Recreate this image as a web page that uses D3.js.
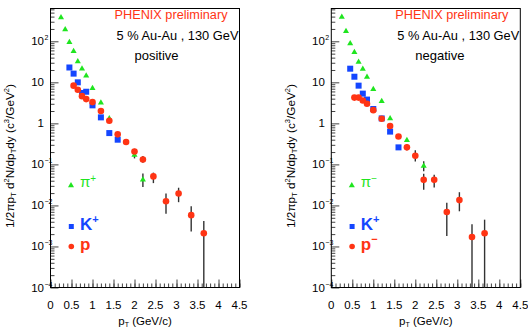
<!DOCTYPE html>
<html>
<head>
<meta charset="utf-8">
<script src="https://cdn.jsdelivr.net/npm/d3@7"></script>
<style>
  body { margin: 0; background: #fff; }
  svg { display: block; font-family: "Liberation Sans", Arial, sans-serif; }
</style>
</head>
<body>
<div id="vis"></div>
<script>
// ---- data ----
var xTicks = [0, 0.5, 1, 1.5, 2, 2.5, 3, 3.5, 4, 4.5];
var yDecades = [-4, -3, -2, -1, 0, 1, 2];

// positive panel
var piPosPt = [0.25, 0.35, 0.45, 0.55, 0.65, 0.75, 0.85, 1.0, 1.2, 1.4, 2.0, 2.2];
var piPosY  = [380, 195, 95, 57, 32, 21.4, 14.5, 7.2, 3.2, 1.32, 0.17, 0.042];
var piPosLo = [null, null, null, null, null, null, null, null, null, null, 0.14, 0.028];
var piPosHi = [null, null, null, null, null, null, null, null, null, null, 0.2, 0.060];

var kPosPt = [0.45, 0.55, 0.65, 0.75, 0.85, 1.0, 1.2, 1.4, 1.6];
var kPosY  = [23, 16.3, 10, 5.5, 5.9, 2.75, 1.4, 0.58, 0.40];

var pPosPt = [0.55, 0.65, 0.75, 0.85, 1.0, 1.2, 1.4, 1.6, 1.8, 2.0, 2.2, 2.45, 2.75, 3.05, 3.35, 3.65];
var pPosY  = [8.3, 6.6, 4.6, 3.9, 3.3, 2.0, 1.16, 0.54, 0.35, 0.207, 0.132, 0.051, 0.0126, 0.0195, 0.0058, 0.0021];
var pPosLo = [null, null, null, null, null, null, null, null, 0.3, 0.18, 0.11, 0.035, 0.0063, 0.012, 0.0023, 0];
var pPosHi = [null, null, null, null, null, null, null, null, 0.4, 0.24, 0.16, 0.063, 0.0195, 0.027, 0.0095, 0.0042];

// negative panel
var piNegPt = [0.25, 0.35, 0.45, 0.55, 0.65, 0.75, 0.85, 1.0, 1.2, 1.4, 1.8, 2.2];
var piNegY  = [390, 175, 88, 54, 31.5, 21, 13.5, 6.8, 3.44, 1.32, 0.39, 0.092];
var piNegLo = [null, null, null, null, null, null, null, null, null, null, null, 0.068];
var piNegHi = [null, null, null, null, null, null, null, null, null, null, null, 0.12];

var kNegPt = [0.45, 0.55, 0.65, 0.75, 0.85, 1.0, 1.2, 1.4, 1.6];
var kNegY  = [21.5, 13.7, 8.3, 5.3, 3.8, 2.24, 1.32, 0.63, 0.26];

var pNegPt = [0.55, 0.65, 0.75, 0.85, 1.0, 1.2, 1.4, 1.6, 1.8, 2.0, 2.2, 2.45, 2.75, 3.05, 3.35, 3.65];
var pNegY  = [4.24, 4.24, 3.6, 3.0, 2.1, 1.3, 0.86, 0.48, 0.26, 0.162, 0.042, 0.042, 0.0069, 0.0135, 0.0017, 0.0021];
var pNegLo = [3.7, 3.7, null, null, null, null, null, null, 0.22, 0.118, 0.024, 0.0275, 0.0018, 0.0072, 0, 0];
var pNegHi = [4.9, 4.9, null, null, null, null, null, null, 0.31, 0.22, 0.059, 0.056, 0.0117, 0.021, 0.0035, 0.0045];

var green = "#1fe51f", blue = "#1446ff", red = "#ff3414";

// ---- layout ----
var width = 189, height = 279;

var svg = d3.select("#vis")
    .append("svg")
    .attr("width", 528)
    .attr("height", 333);

var x = d3.scaleLinear().domain([0, 4.5]).range([0, width]);
var y = d3.scaleLog().domain([1e-4, 630]).range([height, 0]);

function zip(pt, val, lo, hi) {
    return pt.map(function (p, i) {
        return {p: p, v: val[i], lo: lo ? lo[i] : null, hi: hi ? hi[i] : null};
    });
}

function drawPanel(left, title, piData, kData, pData, piLabel, pLabelSup) {
    var g = svg.append("g").attr("transform", "translate(" + left + ",8.5)");

    // x axis ticks (inward)
    var minorX = d3.range(0, 4.51, 0.1);
    g.append("g")
        .attr("transform", "translate(0," + height + ")")
        .call(d3.axisBottom(x).tickValues(minorX).tickSize(-4).tickFormat(""))
        .call(function (a) { a.select(".domain").remove(); a.selectAll("line").attr("stroke", "#444"); });
    g.append("g")
        .attr("transform", "translate(0," + height + ")")
        .call(d3.axisBottom(x).tickValues(xTicks).tickSize(-8).tickFormat(""))
        .call(function (a) { a.select(".domain").remove(); a.selectAll("line").attr("stroke", "#444"); });

    // y axis ticks (inward)
    var minorY = [];
    yDecades.forEach(function (e) {
        for (var k = 2; k <= 9; k++) {
            var v = k * Math.pow(10, e);
            if (v <= 630) minorY.push(v);
        }
    });
    g.append("g")
        .call(d3.axisLeft(y).tickValues(minorY).tickSize(-4).tickFormat(""))
        .call(function (a) { a.select(".domain").remove(); a.selectAll("line").attr("stroke", "#444"); });
    g.append("g")
        .call(d3.axisLeft(y).tickValues(yDecades.map(function (e) { return Math.pow(10, e); })).tickSize(-8).tickFormat(""))
        .call(function (a) { a.select(".domain").remove(); a.selectAll("line").attr("stroke", "#444"); });

    // frame
    g.append("rect")
        .attr("x", 0).attr("y", 0)
        .attr("width", width).attr("height", height)
        .attr("fill", "none").attr("stroke", "#000").attr("stroke-width", 1);

    // x tick labels
    g.selectAll(".xl").data(xTicks).enter().append("text")
        .attr("x", function (d) { return x(d); })
        .attr("y", height + 21)
        .attr("text-anchor", "middle")
        .attr("font-size", 11.5)
        .text(function (d) { return d; });

    // y tick labels
    yDecades.forEach(function (e) {
        var yy = y(Math.pow(10, e)) + 4;
        var base = e === 0 ? "1" : "10";
        g.append("text").attr("x", -6.5).attr("y", yy)
            .attr("text-anchor", "end").attr("font-size", 11.5).text(base);
        if (e !== 0 && e !== 1) {
            g.append("text").attr("x", -6).attr("y", yy - 5)
                .attr("font-size", 7).text(e < 0 ? "\u2212" + (-e) : e);
        }
    });

    // axis titles
    var xt = g.append("text")
        .attr("x", x(2.25)).attr("y", height + 37)
        .attr("text-anchor", "middle").attr("font-size", 11.5);
    xt.append("tspan").text("p");
    xt.append("tspan").attr("font-size", 7).attr("dy", 2).text("T");
    xt.append("tspan").attr("dy", -2).text(" (GeV/c)");

    var yt = g.append("text")
        .attr("transform", "translate(-36.5," + (height / 2 + 8) + ") rotate(-90)")
        .attr("text-anchor", "middle").attr("font-size", 11.8);
    yt.append("tspan").text("1/2\u03c0p");
    yt.append("tspan").attr("font-size", 7.5).attr("dy", 2).text("T");
    yt.append("tspan").attr("dy", -2).text(" d");
    yt.append("tspan").attr("font-size", 7.5).attr("dy", -5).text("2");
    yt.append("tspan").attr("dy", 5).text("N/dp");
    yt.append("tspan").attr("font-size", 7.5).attr("dy", 2).text("T");
    yt.append("tspan").attr("dy", -2).text("dy (c");
    yt.append("tspan").attr("font-size", 7.5).attr("dy", -5).text("3");
    yt.append("tspan").attr("dy", 5).text("/GeV");
    yt.append("tspan").attr("font-size", 7.5).attr("dy", -5).text("2");
    yt.append("tspan").attr("dy", 5).text(")");

    // header texts
    g.append("text").attr("x", 64).attr("y", 10.5)
        .attr("font-size", 12.5).attr("fill", red)
        .attr("textLength", 113).attr("lengthAdjust", "spacingAndGlyphs")
        .text("PHENIX preliminary");
    g.append("text").attr("x", 66).attr("y", 31)
        .attr("font-size", 12.5).attr("fill", "#000")
        .attr("textLength", 122).attr("lengthAdjust", "spacingAndGlyphs")
        .text("5 % Au-Au , 130 GeV");
    g.append("text").attr("x", 84).attr("y", 51.5)
        .attr("font-size", 13).attr("fill", "#000")
        .text(title);

    // error bars
    var all = piData.concat(kData, pData);
    g.selectAll(".err").data(all.filter(function (d) { return d.hi !== null; }))
        .enter().append("line")
        .attr("x1", function (d) { return x(d.p); })
        .attr("x2", function (d) { return x(d.p); })
        .attr("y1", function (d) { return d.lo > 0 ? y(d.lo) : height; })
        .attr("y2", function (d) { return y(d.hi); })
        .attr("stroke", "#333").attr("stroke-width", 1.4);

    // markers
    var tri = d3.symbol().type(d3.symbolTriangle).size(16);
    g.selectAll(".pi").data(piData).enter().append("path")
        .attr("d", tri)
        .attr("transform", function (d) { return "translate(" + x(d.p) + "," + y(d.v) + ")"; })
        .attr("fill", green);
    g.selectAll(".k").data(kData).enter().append("rect")
        .attr("x", function (d) { return x(d.p) - 3; })
        .attr("y", function (d) { return y(d.v) - 3; })
        .attr("width", 6).attr("height", 6)
        .attr("fill", blue);
    g.selectAll(".pr").data(pData).enter().append("circle")
        .attr("cx", function (d) { return x(d.p); })
        .attr("cy", function (d) { return y(d.v); })
        .attr("r", 3.3)
        .attr("fill", red);

    // legend
    g.append("path").attr("d", tri).attr("transform", "translate(20.5,177)").attr("fill", green);
    var lp = g.append("text").attr("x", 29.5).attr("y", 178.5).attr("font-size", 15).attr("fill", green);
    lp.append("tspan").text("\u03c0");
    lp.append("tspan").attr("dy", -5).attr("font-size", 10).text(piLabel);

    g.append("rect").attr("x", 18.3).attr("y", 215.5).attr("width", 5).attr("height", 5).attr("fill", blue);
    var lk = g.append("text").attr("x", 29.5).attr("y", 221).attr("font-size", 17)
        .attr("font-weight", "bold").attr("fill", blue);
    lk.append("tspan").text("K");
    lk.append("tspan").attr("dy", -7).attr("font-size", 11).text("+");

    g.append("circle").attr("cx", 20.8).attr("cy", 238).attr("r", 2.8).attr("fill", red);
    var lpr = g.append("text").attr("x", 29.5).attr("y", 241).attr("font-size", 17)
        .attr("font-weight", "bold").attr("fill", red);
    lpr.append("tspan").text("p");
    if (pLabelSup) lpr.append("tspan").attr("dy", -7).attr("font-size", 11).text(pLabelSup);
}

drawPanel(50.5, "positive",
    zip(piPosPt, piPosY, piPosLo, piPosHi),
    zip(kPosPt, kPosY),
    zip(pPosPt, pPosY, pPosLo, pPosHi),
    "+", "");

drawPanel(331.3, "negative",
    zip(piNegPt, piNegY, piNegLo, piNegHi),
    zip(kNegPt, kNegY),
    zip(pNegPt, pNegY, pNegLo, pNegHi),
    "\u2212", "\u2212");
</script>
</body>
</html>
